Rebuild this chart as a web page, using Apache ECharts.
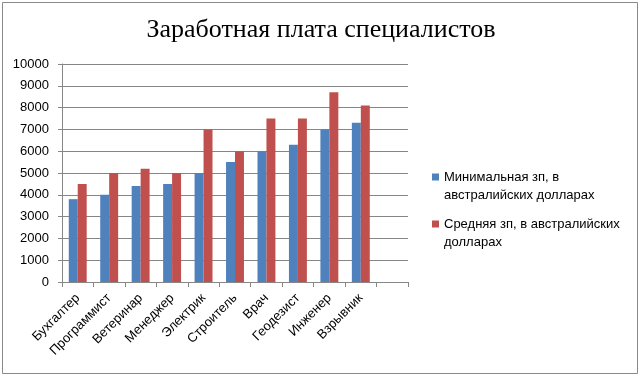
<!DOCTYPE html>
<html>
<head>
<meta charset="utf-8">
<script src="https://cdn.jsdelivr.net/npm/echarts@6/dist/echarts.min.js"></script>
<style>
  html, body { margin: 0; padding: 0; background: #fff; }
  #chart { width: 642px; height: 378px; }
</style>
</head>
<body>
<div id="chart"></div>
<script>
  var categories = ['Бухгалтер', 'Программист', 'Ветеринар', 'Менеджер', 'Электрик',
    'Строитель', 'Врач', 'Геодезист', 'Инженер', 'Взрывник', ''];
  var minSalary = [3800, 4000, 4400, 4500, 5000, 5500, 6000, 6300, 7000, 7300, '-'];
  var avgSalary = [4500, 5000, 5200, 5000, 7000, 6000, 7500, 7500, 8700, 8100, '-'];
  var minName = 'Минимальная зп, в австралийских долларах';
  var avgName = 'Средняя зп, в австралийских долларах';
  var legendLines = {};
  legendLines[minName] = 'Минимальная зп, в\nавстралийских долларах';
  legendLines[avgName] = 'Средняя зп, в австралийских\nдолларах';

  var font = 'Liberation Sans, Arial, sans-serif';
  var gray = '#868686';

  // square sitting at the top of a taller icon box, so it lines up with the first text line
  var legendIcon = 'path://M0,0H7V7H0Z M0,24.99H0.01V25H0Z';

  function legendFor(name, top) {
    return {
      data: [name],
      left: 432,
      top: top,
      padding: 0,
      icon: legendIcon,
      itemWidth: 7,
      itemHeight: 25,
      selectedMode: false,
      formatter: function (n) { return legendLines[n]; },
      textStyle: {
        fontFamily: font,
        fontSize: 13,
        color: '#000',
        lineHeight: 18
      }
    };
  }

  var chart = echarts.init(document.getElementById('chart'));
  var option = {
    backgroundColor: '#fff',
    animation: false,
    color: ['#4F81BD', '#C0504D'],
    title: {
      text: 'Заработная плата специалистов',
      left: 'center',
      top: 12,
      textStyle: {
        fontFamily: 'Liberation Serif, Times New Roman, serif',
        fontSize: 26,
        fontWeight: 'normal',
        color: '#000'
      }
    },
    graphic: [{
      type: 'rect',
      shape: { x: 2.5, y: 2.5, width: 635, height: 371 },
      style: { fill: 'none', stroke: '#898989', lineWidth: 1 },
      silent: true
    }],
    legend: [legendFor(minName, 168), legendFor(avgName, 215)],
    grid: {
      left: 62,
      right: 234,
      top: 64,
      bottom: 96
    },
    xAxis: {
      type: 'category',
      data: categories,
      axisLine: { lineStyle: { color: gray } },
      axisTick: { show: true, length: 5, lineStyle: { color: gray } },
      axisLabel: {
        interval: 0,
        rotate: 45,
        margin: 14,
        fontFamily: font,
        fontSize: 13,
        color: '#000'
      }
    },
    yAxis: {
      type: 'value',
      min: 0,
      max: 10000,
      interval: 1000,
      axisLine: { show: true, lineStyle: { color: gray } },
      axisTick: { show: true, length: 4, lineStyle: { color: gray } },
      splitLine: { lineStyle: { color: gray } },
      axisLabel: {
        margin: 13,
        formatter: function (v) { return String(v); },
        fontFamily: font,
        fontSize: 13,
        color: '#000'
      }
    },
    series: [
      {
        name: minName,
        type: 'bar',
        data: minSalary,
        barGap: '0%',
        barCategoryGap: '43%'
      },
      {
        name: avgName,
        type: 'bar',
        data: avgSalary,
        barGap: '0%',
        barCategoryGap: '43%'
      }
    ]
  };
  chart.setOption(option);
</script>
</body>
</html>
